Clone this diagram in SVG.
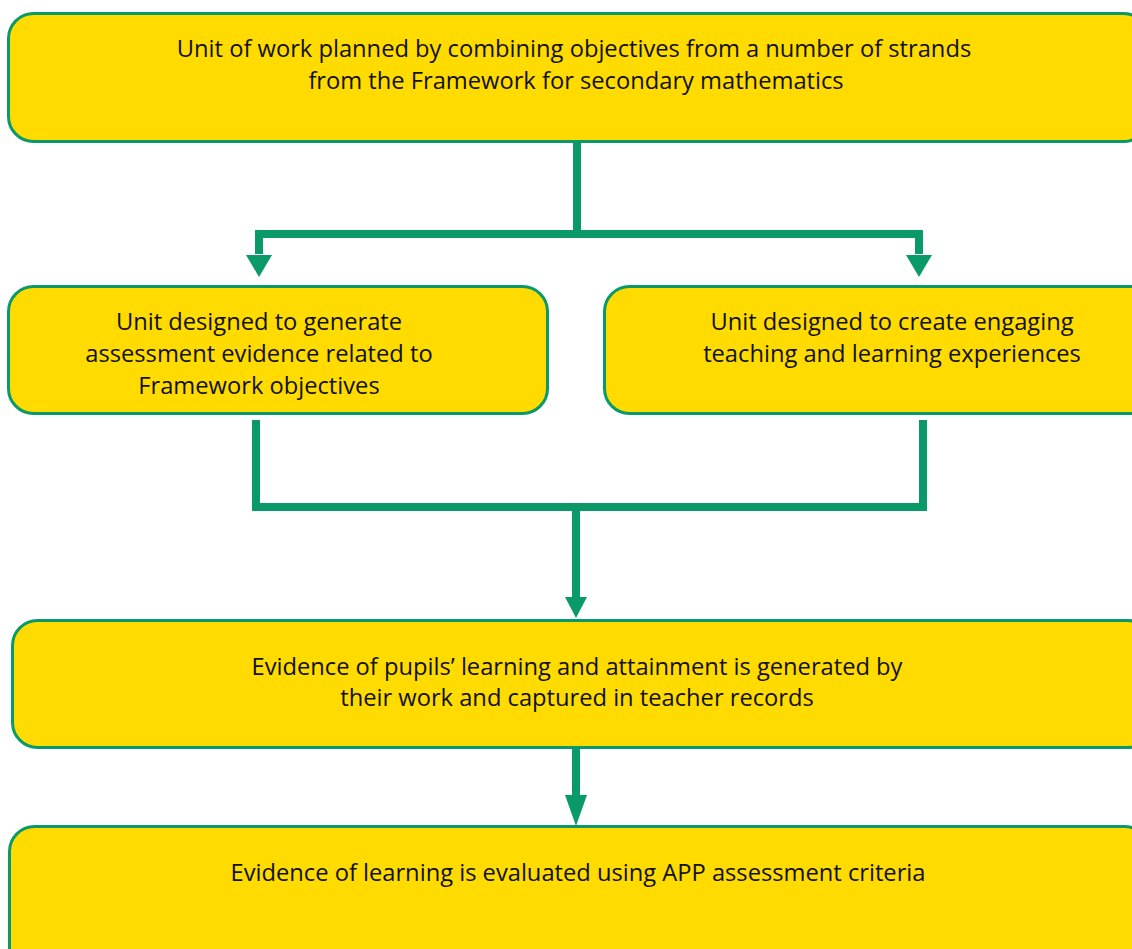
<svg xmlns="http://www.w3.org/2000/svg" width="1132" height="949" viewBox="0 0 1132 949">
<style>
.box{fill:#FFDB00;stroke:#0A9A6A;stroke-width:3}
.t{font-family:"Open Sans","Noto Sans",sans-serif;font-size:23.7px;fill:#111;text-anchor:middle}
.ln{fill:none;stroke:#0A9A6A;stroke-width:8;stroke-linejoin:miter}
.ah{fill:#0A9A6A}
</style>
<rect width="1132" height="949" fill="#fff"/>
<g id="connectors">
<path class="ln" d="M577,143 V234 M259,254 V234 H919 V254"/>
<polygon class="ah" points="246,255 272,255 259,277"/>
<polygon class="ah" points="906,255 932,255 919,277"/>
<path class="ln" d="M256,420 V507 H923 V420 M576,507 V598"/>
<polygon class="ah" points="565,597 587,597 576,618"/>
<path class="ln" d="M576,749 V797"/>
<polygon class="ah" points="565,795 587,795 576,826"/>
</g>
<g id="n1">
<rect class="box" x="8.5" y="13.5" width="1140" height="128" rx="25"/>
<text class="t" x="574" y="57">Unit of work planned by combining objectives from a number of strands</text>
<text class="t" x="576" y="89">from the Framework for secondary mathematics</text>
</g>
<g id="n2">
<rect class="box" x="8.5" y="286.5" width="539" height="127" rx="25"/>
<text class="t" x="259" y="330">Unit designed to generate</text>
<text class="t" x="259" y="362">assessment evidence related to</text>
<text class="t" x="259" y="394">Framework objectives</text>
</g>
<g id="n3">
<rect class="box" x="604.5" y="286.5" width="560" height="127" rx="25"/>
<text class="t" x="892" y="330">Unit designed to create engaging</text>
<text class="t" x="892" y="362">teaching and learning experiences</text>
</g>
<g id="n4">
<rect class="box" x="12.5" y="620.5" width="1140" height="127" rx="25"/>
<text class="t" x="577" y="675">Evidence of pupils’ learning and attainment is generated by</text>
<text class="t" x="577" y="706">their work and captured in teacher records</text>
</g>
<g id="n5">
<rect class="box" x="9.5" y="826.5" width="1140" height="160" rx="25"/>
<text class="t" x="578" y="881">Evidence of learning is evaluated using APP assessment criteria</text>
</g>
</svg>
